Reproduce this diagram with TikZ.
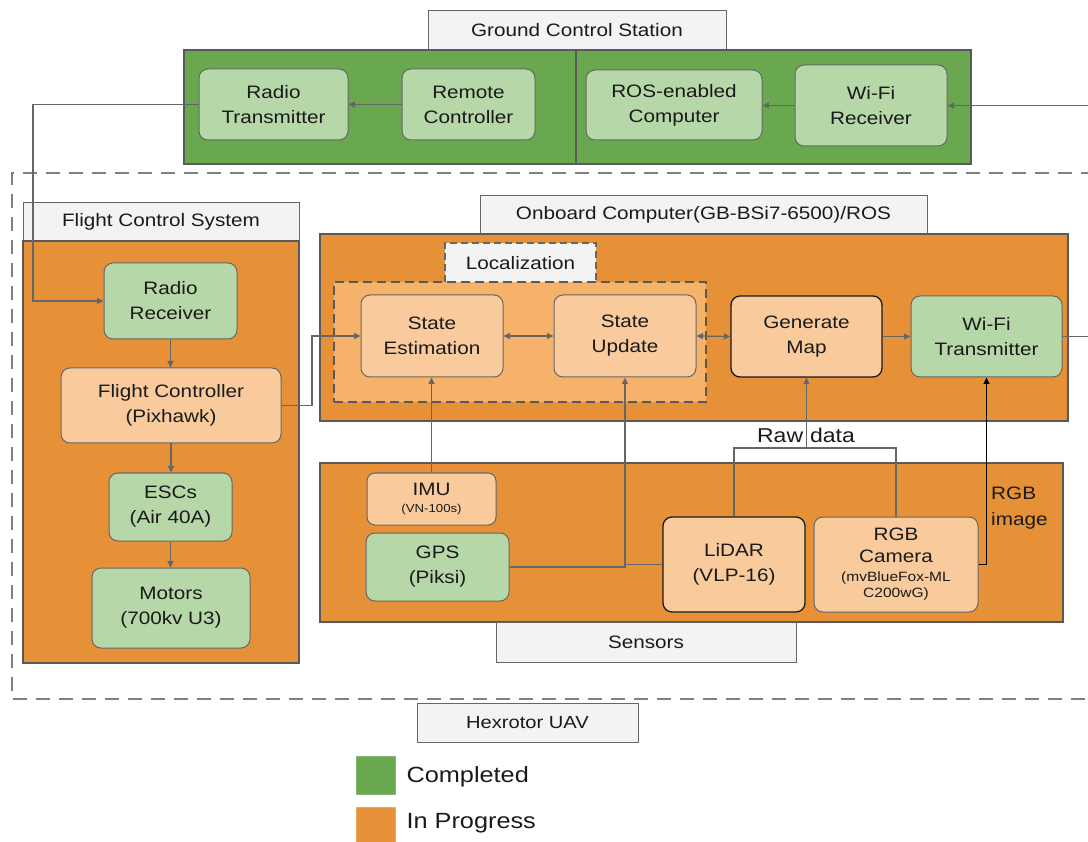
\documentclass[tikz,border=0pt]{standalone}
\usepackage{fontspec}
\setmainfont[FakeStretch=1.15]{Liberation Sans}
\usetikzlibrary{arrows.meta}
\definecolor{dgreen}{HTML}{6AA84F}
\definecolor{lgreen}{HTML}{B6D7A8}
\definecolor{dorange}{HTML}{E69138}
\definecolor{lorange}{HTML}{F9CB9C}
\definecolor{morange}{HTML}{F6B26B}
\definecolor{lgray}{HTML}{F3F3F3}
\definecolor{bordc}{HTML}{595959}
\definecolor{linec}{HTML}{666666}
\definecolor{dashc}{HTML}{808080}
\definecolor{txtc}{HTML}{1A1A1A}
\begin{document}
\begin{tikzpicture}[x=1pt,y=-1pt,
  >={Triangle[length=6.5pt,width=6pt]},
  box/.style={draw=linec, line width=1pt, rounded corners=9pt, align=center, inner sep=0pt, text=txtc, font=\fontsize{18}{25}\selectfont},
  gbox/.style={box, fill=lgreen},
  obox/.style={box, fill=lorange},
  dbox/.style={obox, draw=txtc, line width=1.3pt},
  lab/.style={draw=linec, fill=lgray, line width=0.9pt, inner sep=0pt, text=txtc, font=\fontsize{18}{22}\selectfont},
  cont/.style={draw=bordc, line width=2pt, inner sep=0pt},
  conn/.style={draw=linec, line width=1.2pt},
  arr/.style={conn, ->},
  legtxt/.style={anchor=west, text=txtc, font=\fontsize{22}{26}\selectfont},
]
\useasboundingbox (0,0) rectangle (1088,842);

% Ground Control Station
\node[lab, minimum width=298, minimum height=40] (gcslab) at (577,30) {Ground Control Station};
\node[cont, fill=dgreen, minimum width=787, minimum height=114] (gcs) at (577.5,107) {};
\draw[draw=bordc, line width=1.3pt] (576,50) -- (576,164);
\node[gbox, minimum width=149, minimum height=71] (rt) at (273.5,104.5) {Radio\\Transmitter};
\node[gbox, minimum width=133, minimum height=71] (rc) at (468.5,104.5) {Remote\\Controller};
\node[gbox, minimum width=176, minimum height=70] (ros) at (674,105) {ROS-enabled\\Computer};
\node[gbox, minimum width=152, minimum height=81] (wfr) at (871,105.5) {Wi-Fi\\Receiver};

% Hexrotor dashed region
\draw[draw=dashc, line width=2.6pt, dash pattern=on 14pt off 9pt] (1095,173) -- (12,173) -- (12,699) -- (1095,699);
\node[lab, minimum width=221, minimum height=39] (hexlab) at (527.5,722.5) {\fontsize{17.5}{20}\selectfont Hexrotor UAV};

% Flight Control System
\node[lab, minimum width=276, minimum height=39] (fcslab) at (161,221.5) {Flight Control System};
\node[cont, fill=dorange, minimum width=276, minimum height=422] (fcs) at (161,452) {};
\node[gbox, minimum width=133, minimum height=76] (rr) at (170.5,301) {Radio\\Receiver};
\node[obox, minimum width=220, minimum height=75] (fc) at (171,405.5) {Flight Controller\\(Pixhawk)};
\node[gbox, minimum width=123, minimum height=68] (esc) at (170.5,507) {ESCs\\(Air 40A)};
\node[gbox, minimum width=158, minimum height=80] (mot) at (171,608) {Motors\\(700kv U3)};

% Onboard computer
\node[lab, minimum width=447, minimum height=39] (oblab) at (703.5,214.5) {Onboard Computer(GB-BSi7-6500)/ROS};
\node[cont, fill=dorange, minimum width=748, minimum height=187] (ob) at (694,327.5) {};
\node[lab, dashed, dash pattern=on 7pt off 4pt, line width=1.2pt, minimum width=151, minimum height=40] (loclab) at (520.5,263) {Localization};
\node[draw=bordc, fill=morange, line width=2.2pt, dash pattern=on 9pt off 5pt, minimum width=372, minimum height=120, inner sep=0pt] (loc) at (520,342) {};
\node[obox, minimum width=142, minimum height=82] (se) at (432,336) {State\\Estimation};
\node[obox, minimum width=142, minimum height=82] (su) at (625,336) {State\\Update};
\node[dbox, minimum width=151, minimum height=81] (gm) at (806.5,336.5) {Generate\\Map};
\node[gbox, minimum width=151, minimum height=81] (wft) at (986.5,336.5) {Wi-Fi\\Transmitter};

% Sensors
\node[cont, fill=dorange, minimum width=743, minimum height=159] (sens) at (691.5,542.5) {};
\node[lab, minimum width=300, minimum height=40] (senslab) at (646,642) {Sensors};
\node[obox, rounded corners=8pt, minimum width=129, minimum height=52, font=\fontsize{18}{19}\selectfont] (imu) at (431.5,499) {IMU\\[-2pt]{\fontsize{11.5}{13}\selectfont (VN-100s)}};
\node[gbox, minimum width=143, minimum height=68] (gps) at (437.5,567) {GPS\\(Piksi)};
\node[dbox, minimum width=142, minimum height=95] (lidar) at (734,564.5) {LiDAR\\(VLP-16)};
\node[obox, minimum width=164, minimum height=95, font=\fontsize{18}{22}\selectfont] (cam) at (896,564.5) {RGB\\Camera\\[-3pt]{\fontsize{13.5}{16}\selectfont (mvBlueFox-ML}\\[-6pt]{\fontsize{13.5}{16}\selectfont C200wG)}};
\node[anchor=west, align=left, inner sep=0pt, text=txtc, font=\fontsize{18}{26}\selectfont] (rgbimg) at (991,508) {RGB\\image};

% Legend
\node[fill=dgreen, draw=dgreen!80!white, line width=0.6pt, minimum width=39, minimum height=38, inner sep=0pt] (legg) at (375.5,775) {};
\node[fill=dorange, draw=dorange!80!white, line width=0.6pt, minimum width=39, minimum height=38, inner sep=0pt] (lego) at (375.5,826) {};
\node[legtxt] (legc) at (403,777) {Completed};
\node[legtxt] (legp) at (403,823) {In Progress};

% Connectors
\coordinate (gcsin) at (1090,105.5);
\coordinate (wfout) at (1090,336.5);
\coordinate (bendA) at (33,301);
\coordinate (bendB) at (312,405.5);
\coordinate (rawmid) at (806.5,448);

\draw[arr] (rc.west) -- (rt.east);
\draw[arr] (wfr.west) -- (wfr.west -| ros.east);
\draw[arr] (gcsin) -- (wfr.east);
\draw[arr] (rt.west) -| (bendA) -- (rr.west);
\draw[arr] (rr.south) -- (rr.south |- fc.north);
\draw[arr] (fc.south) -- (fc.south |- esc.north);
\draw[arr] (esc.south) -- (esc.south |- mot.north);
\draw[arr] (fc.east) -- (bendB) |- (se.west);
\draw[conn, <->] (se.east) -- (su.west);
\draw[conn, <->] (su.east) -- (gm.west);
\draw[arr] (gm.east) -- (wft.west);
\draw[conn] (wft.east) -- (wfout);
\draw[arr] (imu.north) -- (imu.north |- se.south);
\draw[arr] (gps.east) -| (su.south);
\draw[conn] (lidar.west) -- (lidar.west -| su.south);
\draw[conn] (lidar.north) |- (rawmid) -| (cam.north);
\draw[arr] (rawmid) -- (gm.south);
\node[inner sep=0pt, text=txtc, font=\fontsize{20}{24}\selectfont] (rawlab) at (806,435) {Raw\hspace{7pt}data};
\draw[arr, draw=black] (cam.east) -| (wft.south);
\end{tikzpicture}
\end{document}
